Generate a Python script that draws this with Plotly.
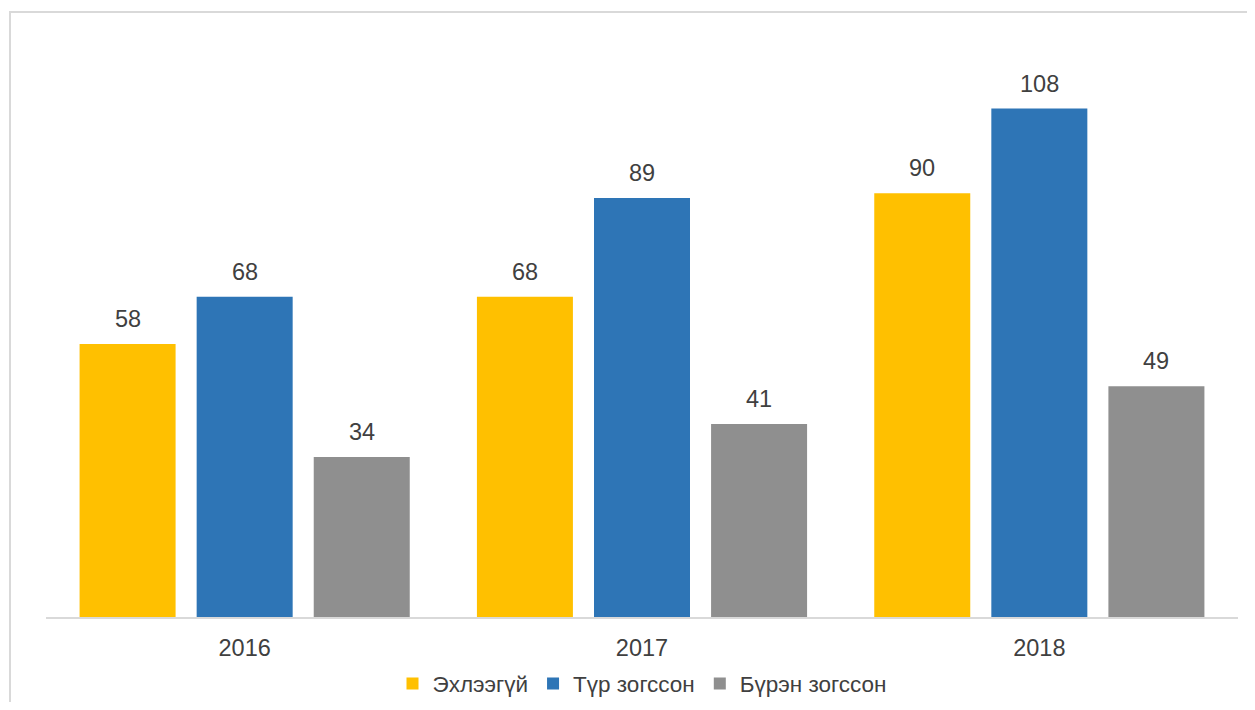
import plotly.graph_objects as go

years = ["2016", "2017", "2018"]
series_names = ["Эхлээгүй", "Түр зогссон", "Бүрэн зогссон"]
vals_not_started = [58, 68, 90]
vals_temp_stopped = [68, 89, 108]
vals_full_stopped = [34, 41, 49]
colors = ["#FFC000", "#2E75B6", "#8F8F8F"]

series_values = [vals_not_started, vals_temp_stopped, vals_full_stopped]

FONT = "Liberation Sans, Arial"

fig = go.Figure()
for name, vals, col in zip(series_names, series_values, colors):
    fig.add_trace(go.Bar(x=years, y=vals, name=name, marker=dict(color=col, line=dict(width=0))))

# value labels (category index used for the x position of each group)
shifts = [-117, 0, 117]
for vals, xs in zip(series_values, shifts):
    for i, v in enumerate(vals):
        fig.add_annotation(x=i, y=v, text=str(v), showarrow=False, xshift=xs,
                           yanchor="bottom", yshift=10,
                           font=dict(family=FONT, size=23.5, color="#404040"))

# page body adds an 8px margin; figure sized so the page fits the window
W, H = 1239, 694
l, r, t, b = 38, 9, 44, 85
pw = W - l - r
ph = H - t - b
# outer border
fig.add_shape(type="rect", xref="paper", yref="paper",
              x0=(2 - l) / pw, x1=(W + 5 - l) / pw,
              y0=-(H + 5 - t - ph) / ph, y1=1 + (t - 4) / ph,
              line=dict(color="#D9D9D9", width=2), layer="below")

fig.update_layout(
    width=W, height=H,
    margin=dict(l=l, r=r, t=t, b=b, autoexpand=False),
    paper_bgcolor="white", plot_bgcolor="white",
    barmode="group", bargap=0.116, bargroupgap=0.18,
    font=dict(family=FONT, size=23.5, color="#404040"),
    showlegend=True,
    legend=dict(orientation="h", x=0.5, xanchor="center", y=-0.0805, yanchor="top",
                font=dict(family=FONT, size=22.5, color="#404040"), itemwidth=30,
                traceorder="normal"),
    xaxis=dict(type="category", range=[-0.5, 2.5], showline=True, linecolor="#D9D9D9",
               linewidth=2, ticks="outside", ticklen=9, tickcolor="rgba(0,0,0,0)",
               tickfont=dict(family=FONT, size=23.5, color="#404040")),
    yaxis=dict(range=[0, 120], visible=False, showgrid=False),
)

fig.write_html("out.html")
